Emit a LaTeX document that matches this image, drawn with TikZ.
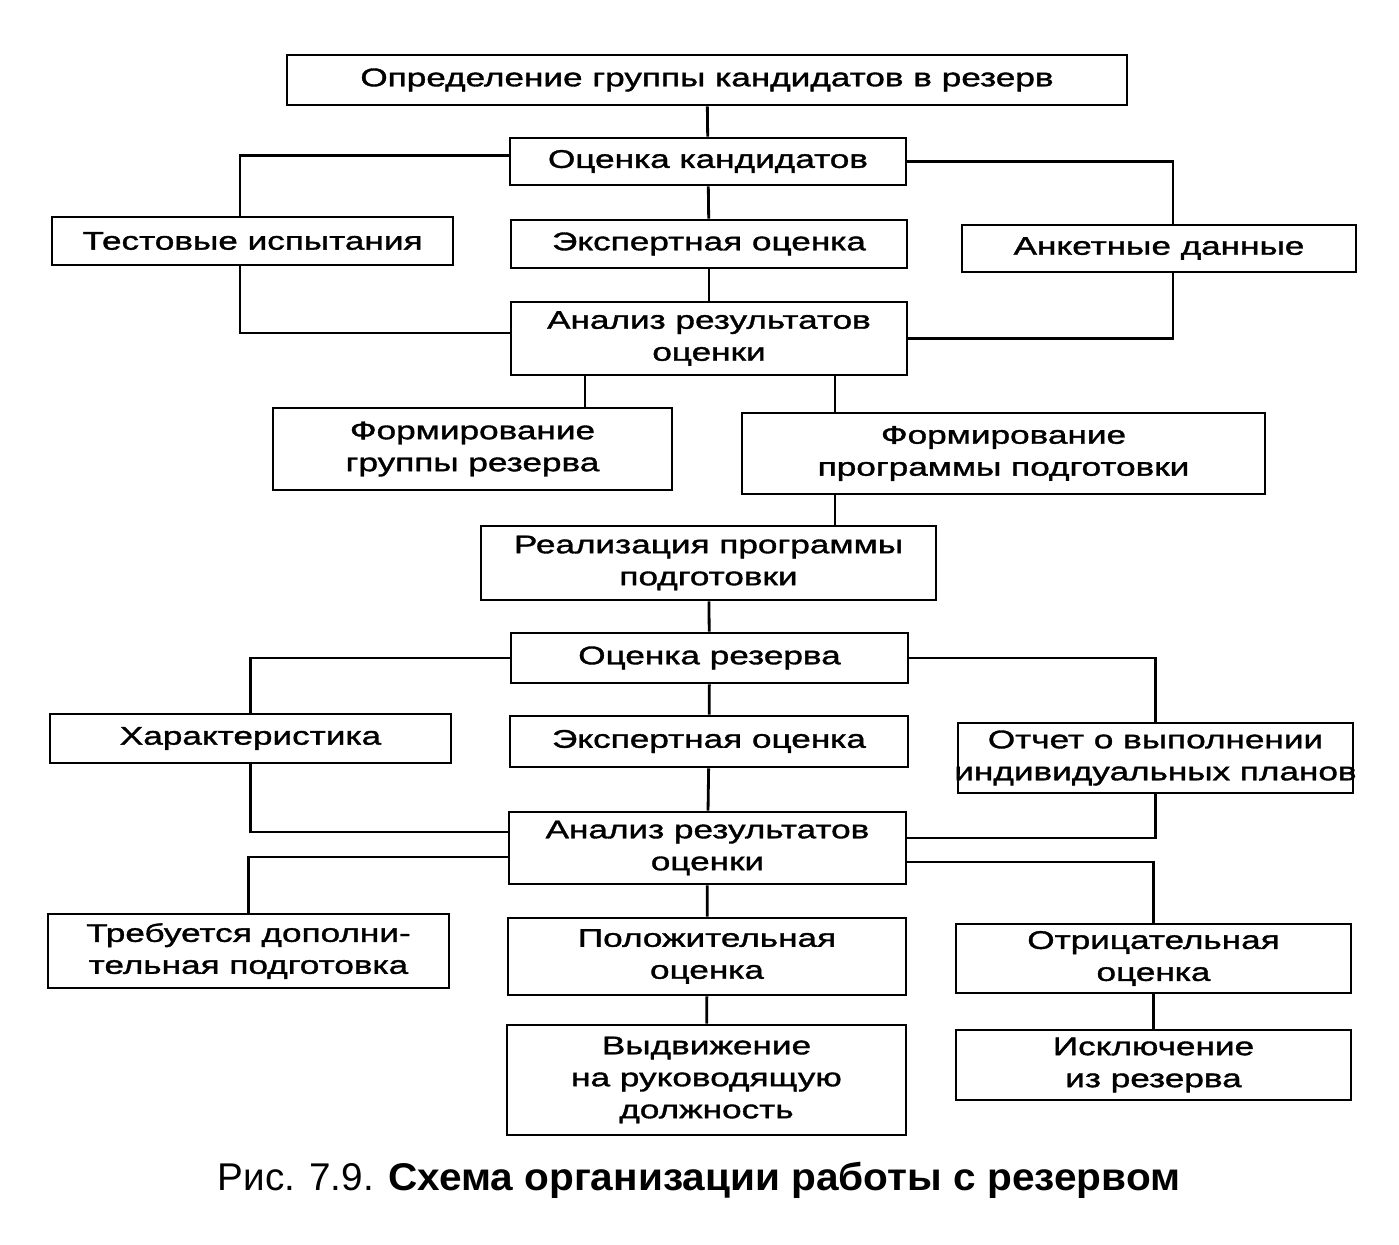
\documentclass[tikz,border=0pt]{standalone}
\usepackage{fontspec}
\setmainfont{Liberation Sans}[FakeStretch=1.38,FakeBold=1.4]
\newfontfamily\capfont{Liberation Sans}[FakeStretch=1.0]
\newfontfamily\capboldfont{Liberation Sans}[FakeStretch=1.05]
\usetikzlibrary{positioning}

\begin{document}
\begin{tikzpicture}[
    x=0.02cm, y=-0.02cm,
    every node/.style={align=center, inner sep=0pt,
      font=\fontsize{14.5}{18.2}\selectfont},
    box/.style={draw, line width=1.6pt},
    link/.style={line width=1.6pt}
]
\useasboundingbox (0,0) rectangle (1399,1244);

% Nodes
\node[box, minimum width=16.8cm, minimum height=1.0cm] (opr) at (707,80) {Определение группы кандидатов в резерв};
\node[box, minimum width=7.92cm, minimum height=0.94cm] (ocK) at (708,161.5) {Оценка кандидатов};
\node[box, minimum width=8.02cm, minimum height=0.96cm] (test) at (252.5,241) {Тестовые испытания};
\node[box, minimum width=7.92cm, minimum height=0.96cm] (ekspA) at (709,244) {Экспертная оценка};
\node[box, minimum width=7.88cm, minimum height=0.94cm] (anket) at (1159,248.5) {Анкетные данные};
\node[box, minimum width=7.92cm, minimum height=1.46cm] (analA) at (709,338.5) {Анализ результатов\\оценки};
\node[box, minimum width=7.98cm, minimum height=1.64cm] (formG) at (472.5,449) {Формирование\\группы резерва};
\node[box, minimum width=10.46cm, minimum height=1.62cm] (formP) at (1003.5,453.5) {Формирование\\программы подготовки};
\node[box, minimum width=9.1cm, minimum height=1.48cm] (real) at (708.5,563) {Реализация программы\\подготовки};
\node[box, minimum width=7.94cm, minimum height=1.0cm] (ocR) at (709.5,658) {Оценка резерва};
\node[box, minimum width=8.02cm, minimum height=0.98cm] (harak) at (250.5,738.5) {Характеристика};
\node[box, minimum width=7.96cm, minimum height=1.02cm] (ekspB) at (709,741.5) {Экспертная оценка};
\node[box, minimum width=7.9cm, minimum height=1.4cm, inner xsep=-4pt] (otchet) at (1155.5,758) {Отчет о выполнении\\индивидуальных планов};
\node[box, minimum width=7.94cm, minimum height=1.44cm] (analB) at (707.5,848) {Анализ результатов\\оценки};
\node[box, minimum width=8.02cm, minimum height=1.48cm] (treb) at (248.5,951) {Требуется дополни-\\тельная подготовка};
\node[box, minimum width=7.96cm, minimum height=1.54cm] (pol) at (707,956.5) {Положительная\\оценка};
\node[box, minimum width=7.9cm, minimum height=1.38cm] (otr) at (1153.5,958.5) {Отрицательная\\оценка};
\node[box, minimum width=7.98cm, minimum height=2.2cm] (vyd) at (706.5,1080) {Выдвижение\\на руководящую\\должность};
\node[box, minimum width=7.9cm, minimum height=1.4cm] (iskl) at (1153.5,1065) {Исключение\\из резерва};
\node[font=\capfont\fontsize{22}{24}\selectfont] (cap) at (699,1180) {Рис. 7.9. {\capboldfont\bfseries Схема организации работы с резервом}};

% Connectors
\draw[link] (opr) -- (ocK);
\draw[link] ([yshift=0.12cm]ocK.west) -| ([xshift=-0.25cm]test.north);
\draw[link] (ocK) -- (ekspA);
\draw[link] (ocK.east) -| ([xshift=0.28cm]anket.north);
\draw[link] ([xshift=-0.25cm]test.south) |- ([yshift=0.11cm]analA.west);
\draw[link] (ekspA) -- (analA);
\draw[link] ([xshift=0.28cm]anket.south) |- (analA.east);
\draw[link] ([xshift=-2.48cm]analA.south) -- ([xshift=-2.48cm]analA.south |- formG.north);
\draw[link] ([xshift=2.52cm]analA.south) -- ([xshift=2.52cm]analA.south |- formP.north);
\draw[link] ([xshift=-3.37cm]formP.south) -- ([xshift=-3.37cm]formP.south |- real.north);
\draw[link] (real) -- (ocR);
\draw[link] (ocR.west) -| (harak.north);
\draw[link] (ocR) -- (ekspB);
\draw[link] (ocR.east) -| (otchet.north);
\draw[link] (harak.south) |- ([yshift=0.32cm]analB.west);
\draw[link] (ekspB) -- (analB);
\draw[link] (otchet.south) |- ([yshift=0.2cm]analB.east);
\draw[link] ([yshift=-0.18cm]analB.west) -| (treb.north);
\draw[link] (analB) -- (pol);
\draw[link] ([yshift=-0.28cm]analB.east) -| (otr.north);
\draw[link] (pol) -- (vyd);
\draw[link] (otr) -- (iskl);

\end{tikzpicture}
\end{document}
